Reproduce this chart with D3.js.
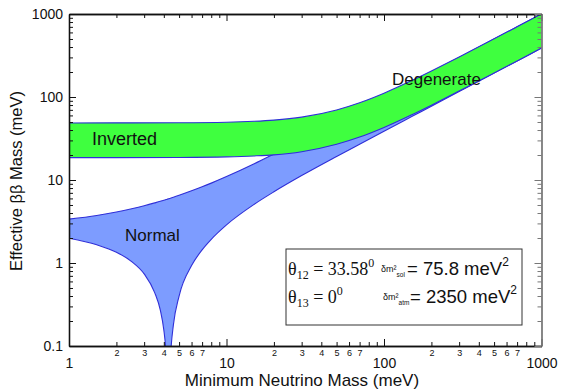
<!DOCTYPE html>
<html>
<head>
<meta charset="utf-8">
<script src="https://cdn.jsdelivr.net/npm/d3@7"></script>
<style>
  body { margin: 0; background: #fff; }
  svg text { font-family: "Liberation Sans", Arial, sans-serif; fill: #111; }
  .serif { font-family: "Liberation Serif", "Times New Roman", serif; }
</style>
</head>
<body>
<svg id="chart" width="575" height="391"></svg>
<script>
// Normal hierarchy band (lightest mass m1, meV)
var massN = [1, 1.5, 2, 2.5, 3, 3.5, 3.8, 4, 4.1, 4.2, 4.27, 4.35, 4.45, 4.6, 5, 6, 7, 8, 10, 15, 20, 30, 50, 70, 100, 150, 200, 300, 500, 700, 1000];
var normalHi = [3.38, 3.74, 4.12, 4.51, 4.90, 5.30, 5.54, 5.71, 5.79, 5.87, 5.93, 6.00, 6.08, 6.21, 6.54, 7.40, 8.28, 9.17, 11.0, 15.7, 20.6, 30.4, 50.2, 70.2, 100.1, 150.1, 200.1, 300, 500, 700, 1000];
var normalLo = [1.99, 1.66, 1.35, 1.04, 0.74, 0.44, 0.27, 0.156, 0.10, 0.043, 0.004, 0.041, 0.096, 0.179, 0.40, 0.93, 1.44, 1.93, 2.88, 5.10, 7.21, 11.3, 19.2, 27.0, 38.7, 58.1, 77.5, 116.4, 194, 271.6, 388];

// Inverted hierarchy band (lightest mass m3, meV)
var massI = [1, 2, 5, 10, 15, 20, 30, 50, 70, 100, 150, 200, 300, 500, 700, 1000];
var invHi = [48.7, 48.8, 49.0, 49.7, 51.0, 52.7, 57.2, 69.8, 85.3, 111.2, 157.7, 205.9, 303.9, 502.4, 701.7, 1001];
var invLo = [18.6, 18.6, 18.7, 19.0, 19.5, 20.1, 21.9, 26.9, 32.9, 43.0, 61.1, 79.8, 117.9, 194.9, 272.2, 388.4];

// Axis ticks
var xMajor = [1, 10, 100, 1000];
var yMajor = [0.1, 1, 10, 100, 1000];
var minorDigits = [2, 3, 4, 5, 6, 7, 8, 9];
var xMinorLabeled = [2, 3, 4, 5, 6, 7];

var svg = d3.select('#chart');
var L = 69, R = 541.5, T = 14, B = 346;

var x = d3.scaleLog().domain([1, 1000]).range([L, R]);
var y = d3.scaleLog().domain([0.1, 1000]).range([B, T]);

function minorsFor(decades) {
    var out = [];
    decades.forEach((d) => {
        minorDigits.forEach((k) => { out.push(d * k); });
    });
    return out;
}
var xMinor = minorsFor([1, 10, 100]);
var yMinor = minorsFor([0.1, 1, 10, 100]);

svg.append('clipPath').attr('id', 'plotclip')
    .append('rect').attr('x', L).attr('y', T).attr('width', R - L).attr('height', B - T);

var plot = svg.append('g').attr('clip-path', 'url(#plotclip)');

function band(mass, lo, hi, fill) {
    var rows = mass.map((m, i) => ({ m: m, lo: lo[i], hi: hi[i] }));
    var area = d3.area()
        .x((d) => x(d.m))
        .y0((d) => y(d.lo))
        .y1((d) => y(d.hi))
        .curve(d3.curveMonotoneX);
    plot.append('path').datum(rows)
        .attr('d', area)
        .attr('fill', fill);
    ['lo', 'hi'].forEach((k) => {
        var line = d3.line()
            .x((d) => x(d.m))
            .y((d) => y(d[k]))
            .curve(d3.curveMonotoneX);
        plot.append('path').datum(rows)
            .attr('d', line)
            .attr('fill', 'none')
            .attr('stroke', '#2f2fd8')
            .attr('stroke-width', 1.1);
    });
}

band(massN, normalLo, normalHi, '#7d9cff');
band(massI, invLo, invHi, '#3fff3f');

// axes
function axisGroup(gen, tx, ty, color) {
    var g = svg.append('g').attr('transform', `translate(${tx},${ty})`).call(gen);
    g.selectAll('line').attr('stroke', color);
    g.select('.domain').attr('stroke', color);
    return g;
}

// bottom
var gxMinor = axisGroup(d3.axisBottom(x).tickValues(xMinor).tickSize(-4).tickSizeOuter(0).tickPadding(3.6)
    .tickFormat((d) => {
        var lead = Math.round(d / Math.pow(10, Math.floor(Math.log10(d) + 1e-9)));
        return xMinorLabeled.indexOf(lead) >= 0 ? String(lead) : '';
    }), 0, B, '#111');
gxMinor.selectAll('text').attr('font-size', 9).attr('font-family', 'Liberation Sans, Arial, sans-serif');
var gxMajor = axisGroup(d3.axisBottom(x).tickValues(xMajor).tickSize(-7).tickSizeOuter(0).tickPadding(12)
    .tickFormat(d3.format('d')), 0, B, '#111');
gxMajor.selectAll('text').attr('font-size', 14).attr('font-family', 'Liberation Sans, Arial, sans-serif');

// top
axisGroup(d3.axisTop(x).tickValues(xMinor).tickSize(-4).tickSizeOuter(0).tickFormat(''), 0, T, '#111');
axisGroup(d3.axisTop(x).tickValues(xMajor).tickSize(-7).tickSizeOuter(0).tickFormat(''), 0, T, '#111');

// left
axisGroup(d3.axisLeft(y).tickValues(yMinor).tickSize(-4).tickSizeOuter(0).tickFormat(''), L, 0, '#111');
var gy = axisGroup(d3.axisLeft(y).tickValues(yMajor).tickSize(-7).tickSizeOuter(0).tickPadding(6)
    .tickFormat((d) => (d < 1 ? '0.1' : d3.format('d')(d))), L, 0, '#111');
gy.selectAll('text').attr('font-size', 14).attr('font-family', 'Liberation Sans, Arial, sans-serif');

// right
axisGroup(d3.axisRight(y).tickValues(yMinor).tickSize(-4).tickSizeOuter(0).tickFormat(''), R, 0, '#777');
axisGroup(d3.axisRight(y).tickValues(yMajor).tickSize(-7).tickSizeOuter(0).tickFormat(''), R, 0, '#777');

svg.selectAll('.domain').attr('stroke-width', 1.3);

// region labels
svg.append('text').attr('x', 92).attr('y', 145).attr('font-size', 18).text('Inverted');
svg.append('text').attr('x', 125).attr('y', 241).attr('font-size', 17).text('Normal');
svg.append('text').attr('x', 392).attr('y', 85).attr('font-size', 17).text('Degenerate');

// axis titles
svg.append('text').attr('x', 302).attr('y', 386).attr('text-anchor', 'middle')
    .attr('font-size', 17).text('Minimum Neutrino Mass (meV)');
svg.append('text').attr('transform', 'translate(22,181) rotate(-90)').attr('text-anchor', 'middle')
    .attr('font-size', 16.5).text('Effective \u03b2\u03b2 Mass (meV)');

// parameter box
svg.append('rect').attr('x', 286).attr('y', 249).attr('width', 236).attr('height', 76)
    .attr('fill', '#fff').attr('stroke', '#333').attr('stroke-width', 1);

function thetaLine(yb, sub, val) {
    var t = svg.append('text').attr('class', 'serif').attr('x', 288).attr('y', yb).attr('font-size', 18);
    t.append('tspan').text('\u03b8');
    t.append('tspan').attr('font-size', 12).attr('dy', 4).text(sub);
    t.append('tspan').attr('dy', -4).text(' = ' + val);
    t.append('tspan').attr('font-size', 12).attr('dy', -8).text('0');
}
function deltaLine(xd, xe, yb, sub, val) {
    var t = svg.append('text').attr('x', xd).attr('y', yb - 3).attr('font-size', 9);
    t.append('tspan').text('\u03b4m\u00b2');
    t.append('tspan').attr('font-size', 6.5).attr('dy', 5).text(sub);
    var e = svg.append('text').attr('x', xe).attr('y', yb).attr('font-size', 18.5);
    e.append('tspan').text('= ' + val + ' meV');
    e.append('tspan').attr('font-size', 12).attr('dy', -9).text('2');
}
thetaLine(275, '12', '33.58');
thetaLine(303, '13', '0');
deltaLine(381, 407, 275, 'sol', '75.8');
deltaLine(383, 410, 303, 'atm', '2350');
</script>
</body>
</html>
